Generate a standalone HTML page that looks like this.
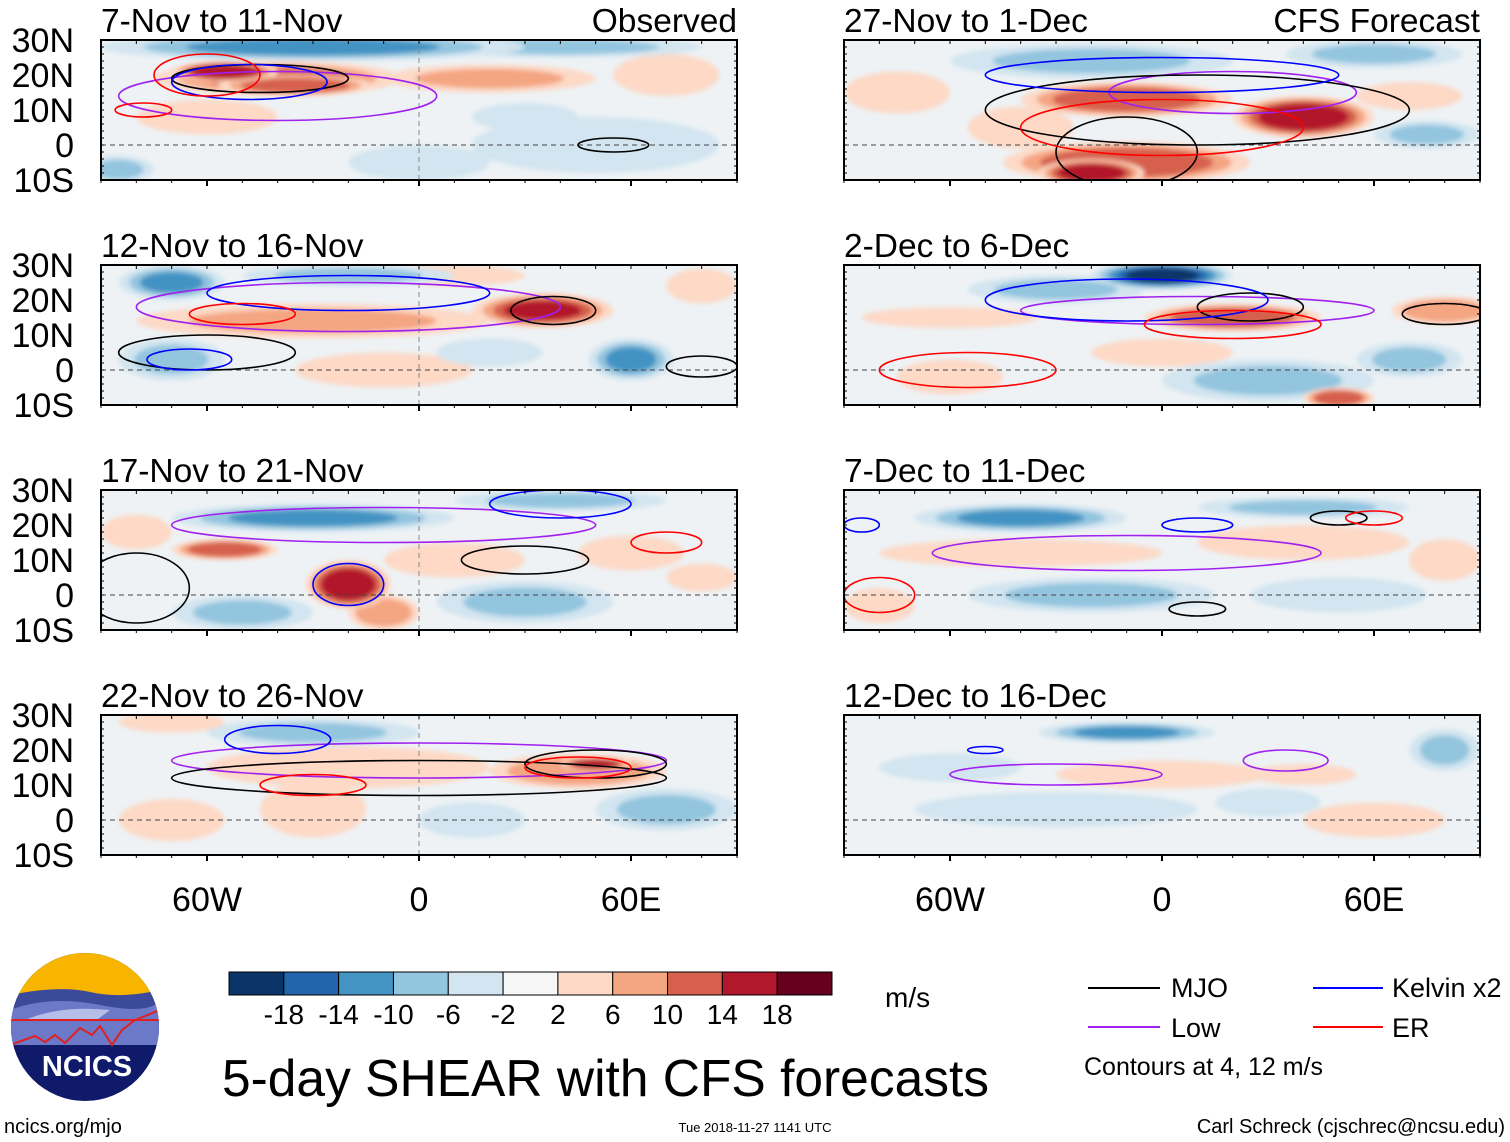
<!DOCTYPE html>
<html><head><meta charset="utf-8"><style>
body{margin:0;background:#fff;}
svg{display:block;font-family:"Liberation Sans",sans-serif;}
</style></head><body>
<svg id="main" width="1510" height="1142" viewBox="0 0 1510 1142" xmlns="http://www.w3.org/2000/svg">
<defs>
<filter id="blur" x="-50%" y="-50%" width="200%" height="200%"><feGaussianBlur stdDeviation="2.5"/></filter>
<clipPath id="logoclip"><circle cx="85" cy="1027" r="74"/></clipPath>
</defs>
<g id="panels"></g>

<g clip-path="url(#logoclip)">
<rect x="10" y="952" width="150" height="150" fill="#0f1a6a"/>
<rect x="10" y="952" width="150" height="45" fill="#f7b500"/>
<path d="M10,995 Q60,985 90,992 T160,990 L160,1040 L10,1040Z" fill="#3b4a9a"/>
<path d="M10,1010 Q50,995 100,1005 T160,1000 L160,1045 L10,1045Z" fill="#6c79c8"/>
<path d="M25,1020 Q60,1005 110,1010 L90,1025 Q50,1030 25,1020Z" fill="#b6bde8"/>
<path d="M10,1045 L35,1036 L45,1042 L55,1035 L65,1043 L80,1028 L92,1035 L100,1026 L112,1045 L122,1030 L135,1020 L160,1010 L160,1020 L10,1020Z" fill="#6c79c8" stroke="#e02020" stroke-width="2"/>
</g>
<text x="87" y="1076" text-anchor="middle" font-size="29" font-weight="bold" fill="#fff">NCICS</text>

<g id="cbar"></g>
<text x="885" y="1007" font-size="28">m/s</text>

<g>
<line x1="1088" y1="988" x2="1160" y2="988" stroke="#000" stroke-width="2"/>
<text x="1171" y="997" font-size="27">MJO</text>
<line x1="1088" y1="1027" x2="1160" y2="1027" stroke="#a020f0" stroke-width="2"/>
<text x="1171" y="1037" font-size="27">Low</text>
<line x1="1313" y1="988" x2="1383" y2="988" stroke="#0000ff" stroke-width="2"/>
<text x="1392" y="997" font-size="27">Kelvin x2</text>
<line x1="1313" y1="1027" x2="1383" y2="1027" stroke="#ff0000" stroke-width="2"/>
<text x="1392" y="1037" font-size="27">ER</text>
<text x="1084" y="1075" font-size="25">Contours at 4, 12 m/s</text>
</g>
<text x="222" y="1096" font-size="51.5">5-day SHEAR with CFS forecasts</text>
<text x="4" y="1133" font-size="20">ncics.org/mjo</text>
<text x="755" y="1132" font-size="13" text-anchor="middle">Tue 2018-11-27 1141 UTC</text>
<text x="1505" y="1133" font-size="20" text-anchor="end">Carl Schreck (cjschrec@ncsu.edu)</text>
</svg>
<script>
const NS="http://www.w3.org/2000/svg";
const levels=[-18,-14,-10,-6,-2,2,6,10,14,18];
const colors=["#0b3468","#2265ad","#4393c3","#93c5df","#d2e5f0","#f6f6f6","#fdd9c6","#f4a582","#d6604d","#b2182b","#67001f"];
const panelTitles=["7-Nov to 11-Nov","12-Nov to 16-Nov","17-Nov to 21-Nov","22-Nov to 26-Nov","27-Nov to 1-Dec","2-Dec to 6-Dec","7-Dec to 11-Dec","12-Dec to 16-Dec"];
const latTicks=[30,20,10,0,-10];
const latLabels=["30N","20N","10N","0","10S"];
const lonTicks=[-60,0,60];
const lonLabels=["60W","0","60E"];
// shading blobs: [lon, lat, halfLon, halfLat, value]
const shade0=[[-30,28,60,4,-10],[40,28,40,3,-8],[20,19,30,4,8],[-40,19,35,5,12],[-35,17,22,3,14],[-55,21,15,3,18],[50,0,35,8,-5],[-85,-7,10,4,-8],[-60,8,20,5,4],[70,20,15,6,6],[0,-5,20,5,-4],[30,8,15,4,-4]];
const shade1=[[-70,25,15,5,-12],[-20,27,30,3,-8],[-30,14,50,5,8],[35,17,20,5,16],[10,27,20,3,6],[60,3,12,6,-12],[-70,3,15,6,-6],[80,24,10,5,6],[-10,0,25,5,4],[20,5,15,4,-4]];
const shade2=[[-30,22,40,4,-12],[40,27,30,3,-8],[10,10,20,5,6],[-10,-5,10,5,10],[-55,13,15,3,14],[-20,3,12,7,18],[30,-2,25,6,-8],[-50,-5,20,5,-6],[-80,18,10,5,6],[60,12,15,5,4],[80,5,10,4,4]];
const shade3=[[-30,25,30,4,-6],[70,3,20,6,-8],[-70,28,15,3,6],[-20,15,40,6,6],[-30,3,15,8,6],[45,14,25,5,10],[50,16,10,2,18],[-70,0,15,6,4],[15,0,15,5,-4]];
const shade4=[[-20,24,40,5,-8],[60,26,25,4,-6],[75,3,15,4,-8],[-40,5,15,6,6],[-10,13,30,5,14],[-10,-5,35,6,14],[40,8,20,6,18],[-20,-8,15,4,18],[-75,15,15,6,4],[70,14,15,4,6]];
const shade5=[[-30,23,25,4,-8],[0,27,20,4,-18],[30,-3,30,6,-6],[70,3,15,5,-8],[-60,-2,15,5,6],[80,17,15,4,10],[20,15,25,4,14],[50,-8,10,3,14],[-60,15,25,3,6],[0,5,20,4,4]];
const shade6=[[-40,22,30,4,-10],[-20,0,35,5,-8],[40,25,30,3,-6],[-40,12,40,4,6],[40,15,30,5,6],[-80,-3,10,5,6],[50,0,25,5,-4],[80,10,10,6,4]];
const shade7=[[-10,25,25,3,-10],[-30,3,40,5,-4],[80,20,10,6,-8],[0,13,30,4,6],[40,13,15,3,6],[60,0,20,5,4],[-60,15,20,4,-4],[30,5,15,4,-4]];
const shades=[shade0,shade1,shade2,shade3,shade4,shade5,shade6,shade7];
const mjo=[[[-45,19,25,4],[55,0,10,2]],[[38,17,12,4],[-60,5,25,5],[80,1,10,3]],[[30,10,18,4],[-80,2,15,10]],[[0,12,70,5],[50,16,20,4]],[[10,10,60,10],[-10,-2,20,10]],[[25,18,15,4],[80,16,12,3]],[[50,22,8,2],[10,-4,8,2]],[]];
const kelvin=[[[-48,18,22,5]],[[-20,22,40,5],[-65,3,12,3]],[[-20,3,10,6],[40,26,20,4]],[[-40,23,15,4]],[[0,20,50,5]],[[-10,20,40,6]],[[-85,20,5,2],[10,20,10,2]],[[-50,20,5,1]]];
const er=[[[-60,20,15,6],[-78,10,8,2]],[[-50,16,15,3]],[[70,15,10,3]],[[-30,10,15,3],[45,15,15,3]],[[0,5,40,8]],[[-55,0,25,5],[20,13,25,4]],[[-80,0,10,5],[60,22,8,2]],[]];
const low=[[[-40,14,45,7]],[[-20,18,60,7]],[[-10,20,60,5]],[[0,17,70,5]],[[20,15,35,6]],[[10,17,50,4]],[[-10,12,55,5]],[[-30,13,30,3],[35,17,12,3]]];

function mk(tag,attrs,parent){const e=document.createElementNS(NS,tag);for(const k in attrs)e.setAttribute(k,attrs[k]);if(parent)parent.appendChild(e);return e;}
function colorFor(v){let i=0;while(i<levels.length&&v>levels[i])i++;return colors[i];}
const panelsG=document.getElementById('panels');
const W=636,H=140,colX=[101,844],rowY=[40,265,490,715];
for(let p=0;p<8;p++){
  const col=p<4?0:1,row=p%4,x0=colX[col],y0=rowY[row];
  const xs=lon=>x0+(lon+90)/180*W, ys=lat=>y0+(30-lat)/40*H;
  const g=mk('g',{},panelsG);
  
  
  const cp=mk('clipPath',{id:'cp'+p},g);mk('rect',{x:x0,y:y0,width:W,height:H},cp);
  const inner=mk('g',{'clip-path':'url(#cp'+p+')'},g);
  mk('rect',{x:x0,y:y0,width:W,height:H,fill:'#eef2f5'},inner);
  const sg=mk('g',{filter:'url(#blur)'},inner);
  const sorted=shades[p].slice().sort((a,b)=>Math.abs(a[4])-Math.abs(b[4]));
  sorted.forEach(b=>{
    const n=Math.max(1,Math.round(Math.abs(b[4])/4));
    for(let k=0;k<n;k++){
      const f=1-0.6*k/n;
      const v=Math.sign(b[4])*Math.min(Math.abs(b[4]),4*(k+1)+1);
      const e=mk('ellipse',{cx:xs(b[0]),cy:ys(b[1]),rx:b[2]/180*W*f,ry:b[3]/40*H*f,fill:colorFor(v)},sg);
      
      
    }
  });
  mk('line',{x1:x0,y1:ys(0),x2:x0+W,y2:ys(0),stroke:'#444','stroke-dasharray':'5,4','stroke-width':1},inner);
  if(col===0) mk('line',{x1:xs(0),y1:y0,x2:xs(0),y2:y0+H,stroke:'#888','stroke-dasharray':'5,4','stroke-width':1},inner);
  const sets=[[low[p],'#a020f0'],[mjo[p],'#000'],[kelvin[p],'#0000ff'],[er[p],'#ff0000']];
  sets.forEach(([arr,c])=>arr.forEach(cn=>{
    const e=mk('ellipse',{cx:xs(cn[0]),cy:ys(cn[1]),rx:cn[2]/180*W,ry:cn[3]/40*H,fill:'none',stroke:c,'stroke-width':1.6},inner);
    
    
  }));
  mk('rect',{x:x0,y:y0,width:W,height:H,fill:'none',stroke:'#000','stroke-width':2},g);
  for(let lon=-90;lon<=90;lon+=10){mk('line',{x1:xs(lon),y1:y0,x2:xs(lon),y2:y0+4,stroke:'#000'},g);mk('line',{x1:xs(lon),y1:y0+H,x2:xs(lon),y2:y0+H+(lon%60===0?6:3),stroke:'#000','stroke-width':lon%60===0?2:1},g);}
  for(let lat=-10;lat<=30;lat+=2){mk('line',{x1:x0,y1:ys(lat),x2:x0+3,y2:ys(lat),stroke:'#000'},g);mk('line',{x1:x0+W,y1:ys(lat),x2:x0+W-3,y2:ys(lat),stroke:'#000'},g);}
  const t=mk('text',{x:x0,y:y0-8,'font-size':33.5},g);t.textContent=panelTitles[p];
  
  
  if(row===0){const r=mk('text',{x:x0+W,y:y0-8,'font-size':33.5,'text-anchor':'end'},g);r.textContent=col===0?'Observed':'CFS Forecast';
    
    }
  if(col===0) latTicks.forEach((lt,i)=>{const l=mk('text',{x:74,y:ys(lt)+12,'font-size':34,'text-anchor':'end'},g);l.textContent=latLabels[i];
    
    });
  if(row===3) lonTicks.forEach((ln,i)=>{const l=mk('text',{x:xs(ln),y:911,'font-size':34,'text-anchor':'middle'},g);l.textContent=lonLabels[i];
    
    });
}
const cb=document.getElementById('cbar');
const cbx=229,cbw=603/11;
colors.forEach((c,i)=>{const r=mk('rect',{x:cbx+i*cbw,y:972,width:cbw,height:23,fill:c,stroke:'#000','stroke-width':1},cb);
  
  });
levels.forEach((v,i)=>{const t=mk('text',{x:cbx+(i+1)*cbw,y:1024,'font-size':28,'text-anchor':'middle'},cb);t.textContent=v;
  
  });
</script>
</body></html>
